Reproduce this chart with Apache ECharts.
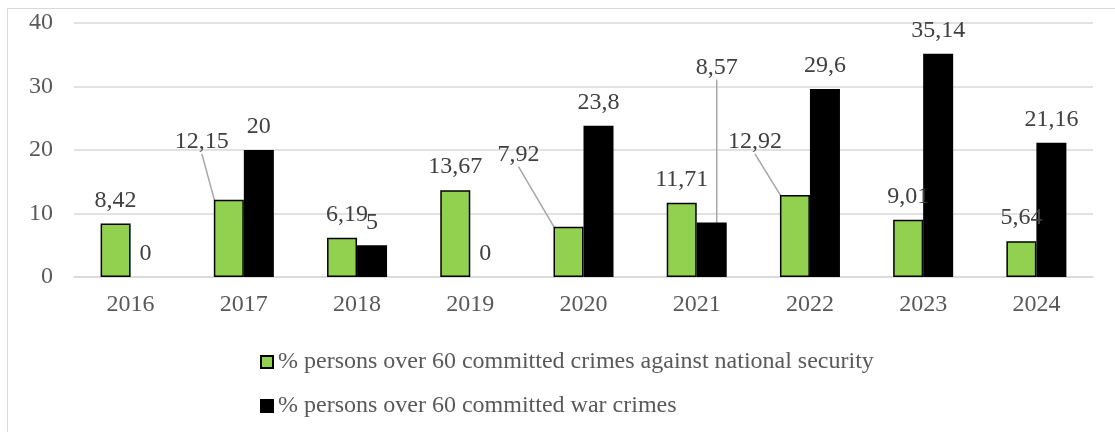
<!DOCTYPE html>
<html>
<head>
<meta charset="utf-8">
<script src="https://cdn.jsdelivr.net/npm/echarts@6/dist/echarts.min.js"></script>
<style>
  html, body { margin: 0; padding: 0; background: #fff; }
  #frame { position: absolute; left: 7px; top: 8px; width: 1120px; height: 440px;
           border: 1.5px solid #d9d9d9; box-sizing: border-box; }
  #chart { position: absolute; left: 0; top: 0; width: 1115px; height: 432px; }
</style>
</head>
<body>
<div id="frame"></div>
<div id="chart"></div>
<script>
const years = ['2016', '2017', '2018', '2019', '2020', '2021', '2022', '2023', '2024'];
const nationalSecurity = [8.42, 12.15, 6.19, 13.67, 7.92, 11.71, 12.92, 9.01, 5.64];
const warCrimes = [0, 20, 5, 0, 23.8, 8.57, 29.6, 35.14, 21.16];
const seriesNames = [
  '% persons over 60 committed crimes against national security',
  '% persons over 60 committed war crimes'
];
const yTicks = [0, 10, 20, 30, 40];

// label nudges (px) for labels that sit away from their bars; [series][dataIndex]
const labelShift = {
  0: { 1: [-27, -35], 2: [5, 0], 4: [-50, -49], 6: [-40, -30] },
  1: { 5: [5, -132] }
};
const leaderLines = { 0: [1, 4, 6], 1: [5] };

const fmt = v => String(v).replace('.', ',');

function buildData(values, sIdx) {
  return values.map((v, i) => {
    const item = { value: v };
    if (v === 0) item.itemStyle = { borderWidth: 0 };
    if ((leaderLines[sIdx] || []).includes(i)) {
      item.labelLine = { show: true, lineStyle: { color: '#a6a6a6', width: 1.5 } };
    }
    return item;
  });
}

const chart = echarts.init(document.getElementById('chart'));
const fontFamily = '"Liberation Serif", "Times New Roman", serif';

const valueLabel = {
  show: true, position: 'top', distance: 11,
  fontFamily, fontSize: 24, color: '#404040',
  formatter: p => fmt(p.value)
};

chart.setOption({
  animation: false,
  textStyle: { fontFamily },
  grid: { left: 74, right: 22, top: 23, bottom: 155 },
  legend: {
    orient: 'vertical',
    left: 255,
    top: 345,
    itemWidth: 12,
    itemHeight: 12,
    itemGap: 20,
    icon: 'rect',
    textStyle: { fontFamily, fontSize: 24, color: '#595959' },
    data: seriesNames
  },
  xAxis: {
    type: 'category',
    data: years,
    axisLine: { lineStyle: { color: '#d9d9d9', width: 1.5 } },
    axisTick: { show: false },
    axisLabel: { fontFamily, fontSize: 24, color: '#595959', margin: 16 }
  },
  yAxis: {
    type: 'value',
    min: yTicks[0],
    max: yTicks[yTicks.length - 1],
    interval: 10,
    axisLine: { show: false },
    axisTick: { show: false },
    splitLine: { lineStyle: { color: '#d9d9d9', width: 1.5 } },
    axisLabel: { fontFamily, fontSize: 24, color: '#595959', margin: 21 }
  },
  series: [
    {
      name: seriesNames[0],
      type: 'bar',
      data: buildData(nationalSecurity, 0),
      barGap: '0%',
      barCategoryGap: '47%',
      itemStyle: { color: '#92d050', borderColor: '#000', borderWidth: 1.5 },
      label: valueLabel
    },
    {
      name: seriesNames[1],
      type: 'bar',
      data: buildData(warCrimes, 1),
      itemStyle: { color: '#000', borderColor: '#000', borderWidth: 1.5 },
      label: valueLabel
    }
  ],
  labelLayout: function (params) {
    const s = labelShift[params.seriesIndex];
    const d = s && s[params.dataIndex];
    if (d) return { dx: d[0], dy: d[1] };
    return {};
  }
});
</script>
</body>
</html>
